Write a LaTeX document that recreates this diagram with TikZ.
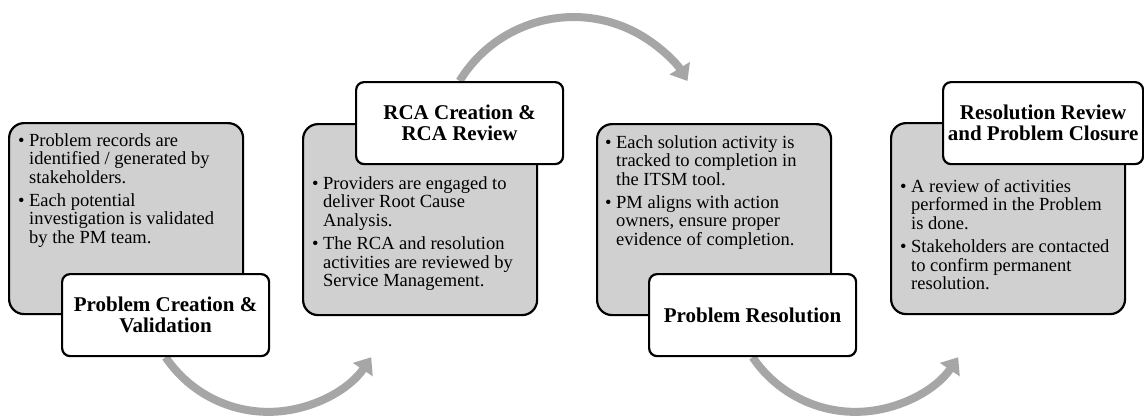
\documentclass[tikz,border=0pt]{standalone}
\usepackage{fontspec}
\setmainfont{Liberation Serif}
\usetikzlibrary{arrows.meta}
\pgfdeclarelayer{bg}
\pgfsetlayers{bg,main}

\definecolor{stagefill}{HTML}{D0D0D0}
\definecolor{flowgray}{HTML}{A6A6A6}

% bulleted text with hanging indent
\newcommand\bodyfont{\fontsize{18.5}{18.7}\selectfont}
\newcommand\pitem[1]{\par\hangindent=11pt\hangafter=1\noindent\makebox[11pt][l]{\textbullet}#1}
\newcommand\bodytext[1]{\parbox[t]{240pt}{\bodyfont\parskip=4pt #1}}

\tikzset{
  stage/.style={draw=black, line width=2.2pt, fill=stagefill, rounded corners=15pt,
                anchor=north west, minimum width=234pt, minimum height=191pt, inner sep=0pt},
  tag/.style={draw=black, line width=2.2pt, fill=white, rounded corners=8pt,
              anchor=north west, minimum width=207pt, minimum height=82pt, inner sep=0pt,
              align=center, font=\bfseries\fontsize{21}{21}\selectfont},
  body/.style={anchor=base west, inner sep=0pt},
  flow/.style={draw=flowgray, line width=8pt, -{Triangle[length=15pt,width=23pt]}}
}

\begin{document}
\begin{tikzpicture}[x=1pt, y=-1pt]
  \useasboundingbox (0,0) rectangle (1144,416);

  % stage panels
  \node[stage] (g1) at (8,122) {};
  \node[stage] (g2) at (302,123) {};
  \node[stage] (g3) at (596,123) {};
  \node[stage] (g4) at (890,122) {};

  % stage titles
  \node[tag] (l1) at (61,273) {Problem Creation \&\\Validation};
  \node[tag] (l2) at (355,81) {RCA Creation \&\\RCA Review};
  \node[tag] (l3) at (648,273) {Problem Resolution};
  \node[tag, minimum width=200pt] (l4) at (942,81) {Resolution Review\\and Problem Closure};

  % panel texts
  \coordinate (a2) at (g2.north west |- l2.south);
  \coordinate (a4) at (g4.north west |- l4.south);

  \node[body] (t1) at ([shift={(10pt,-24pt)}]g1.north west) {\bodytext{%
    \pitem{Problem records are\\identified / generated by\\stakeholders.}%
    \pitem{Each potential\\investigation is validated\\by the PM team.}}};
  \node[body] (t2) at ([shift={(10pt,-24pt)}]a2) {\bodytext{%
    \pitem{Providers are engaged to\\deliver Root Cause\\Analysis.}%
    \pitem{The RCA and resolution\\activities are reviewed by\\Service Management.}}};
  \node[body] (t3) at ([shift={(9pt,-25pt)}]g3.north west) {\bodytext{%
    \pitem{Each solution activity is\\tracked to completion in\\the ITSM tool.}%
    \pitem{PM aligns with action\\owners, ensure proper\\evidence of completion.}}};
  \node[body] (t4) at ([shift={(10pt,-27pt)}]a4) {\bodytext{%
    \pitem{A review of activities\\performed in the Problem\\is done.}%
    \pitem{Stakeholders are contacted\\to confirm permanent\\resolution.}}};

  % white page and curved flow arrows behind the panels
  \begin{pgfonlayer}{bg}
    \fill[white] (0,0) rectangle (1144,416);
    \draw[flow] (l1.south) arc[start angle=214, end angle=326, radius=124pt];
    \draw[flow] (l2.north) arc[start angle=148.6, end angle=31.4, radius=133.5pt];
    \draw[flow] (l3.south) arc[start angle=214, end angle=326, radius=124pt];
  \end{pgfonlayer}
\end{tikzpicture}
\end{document}
